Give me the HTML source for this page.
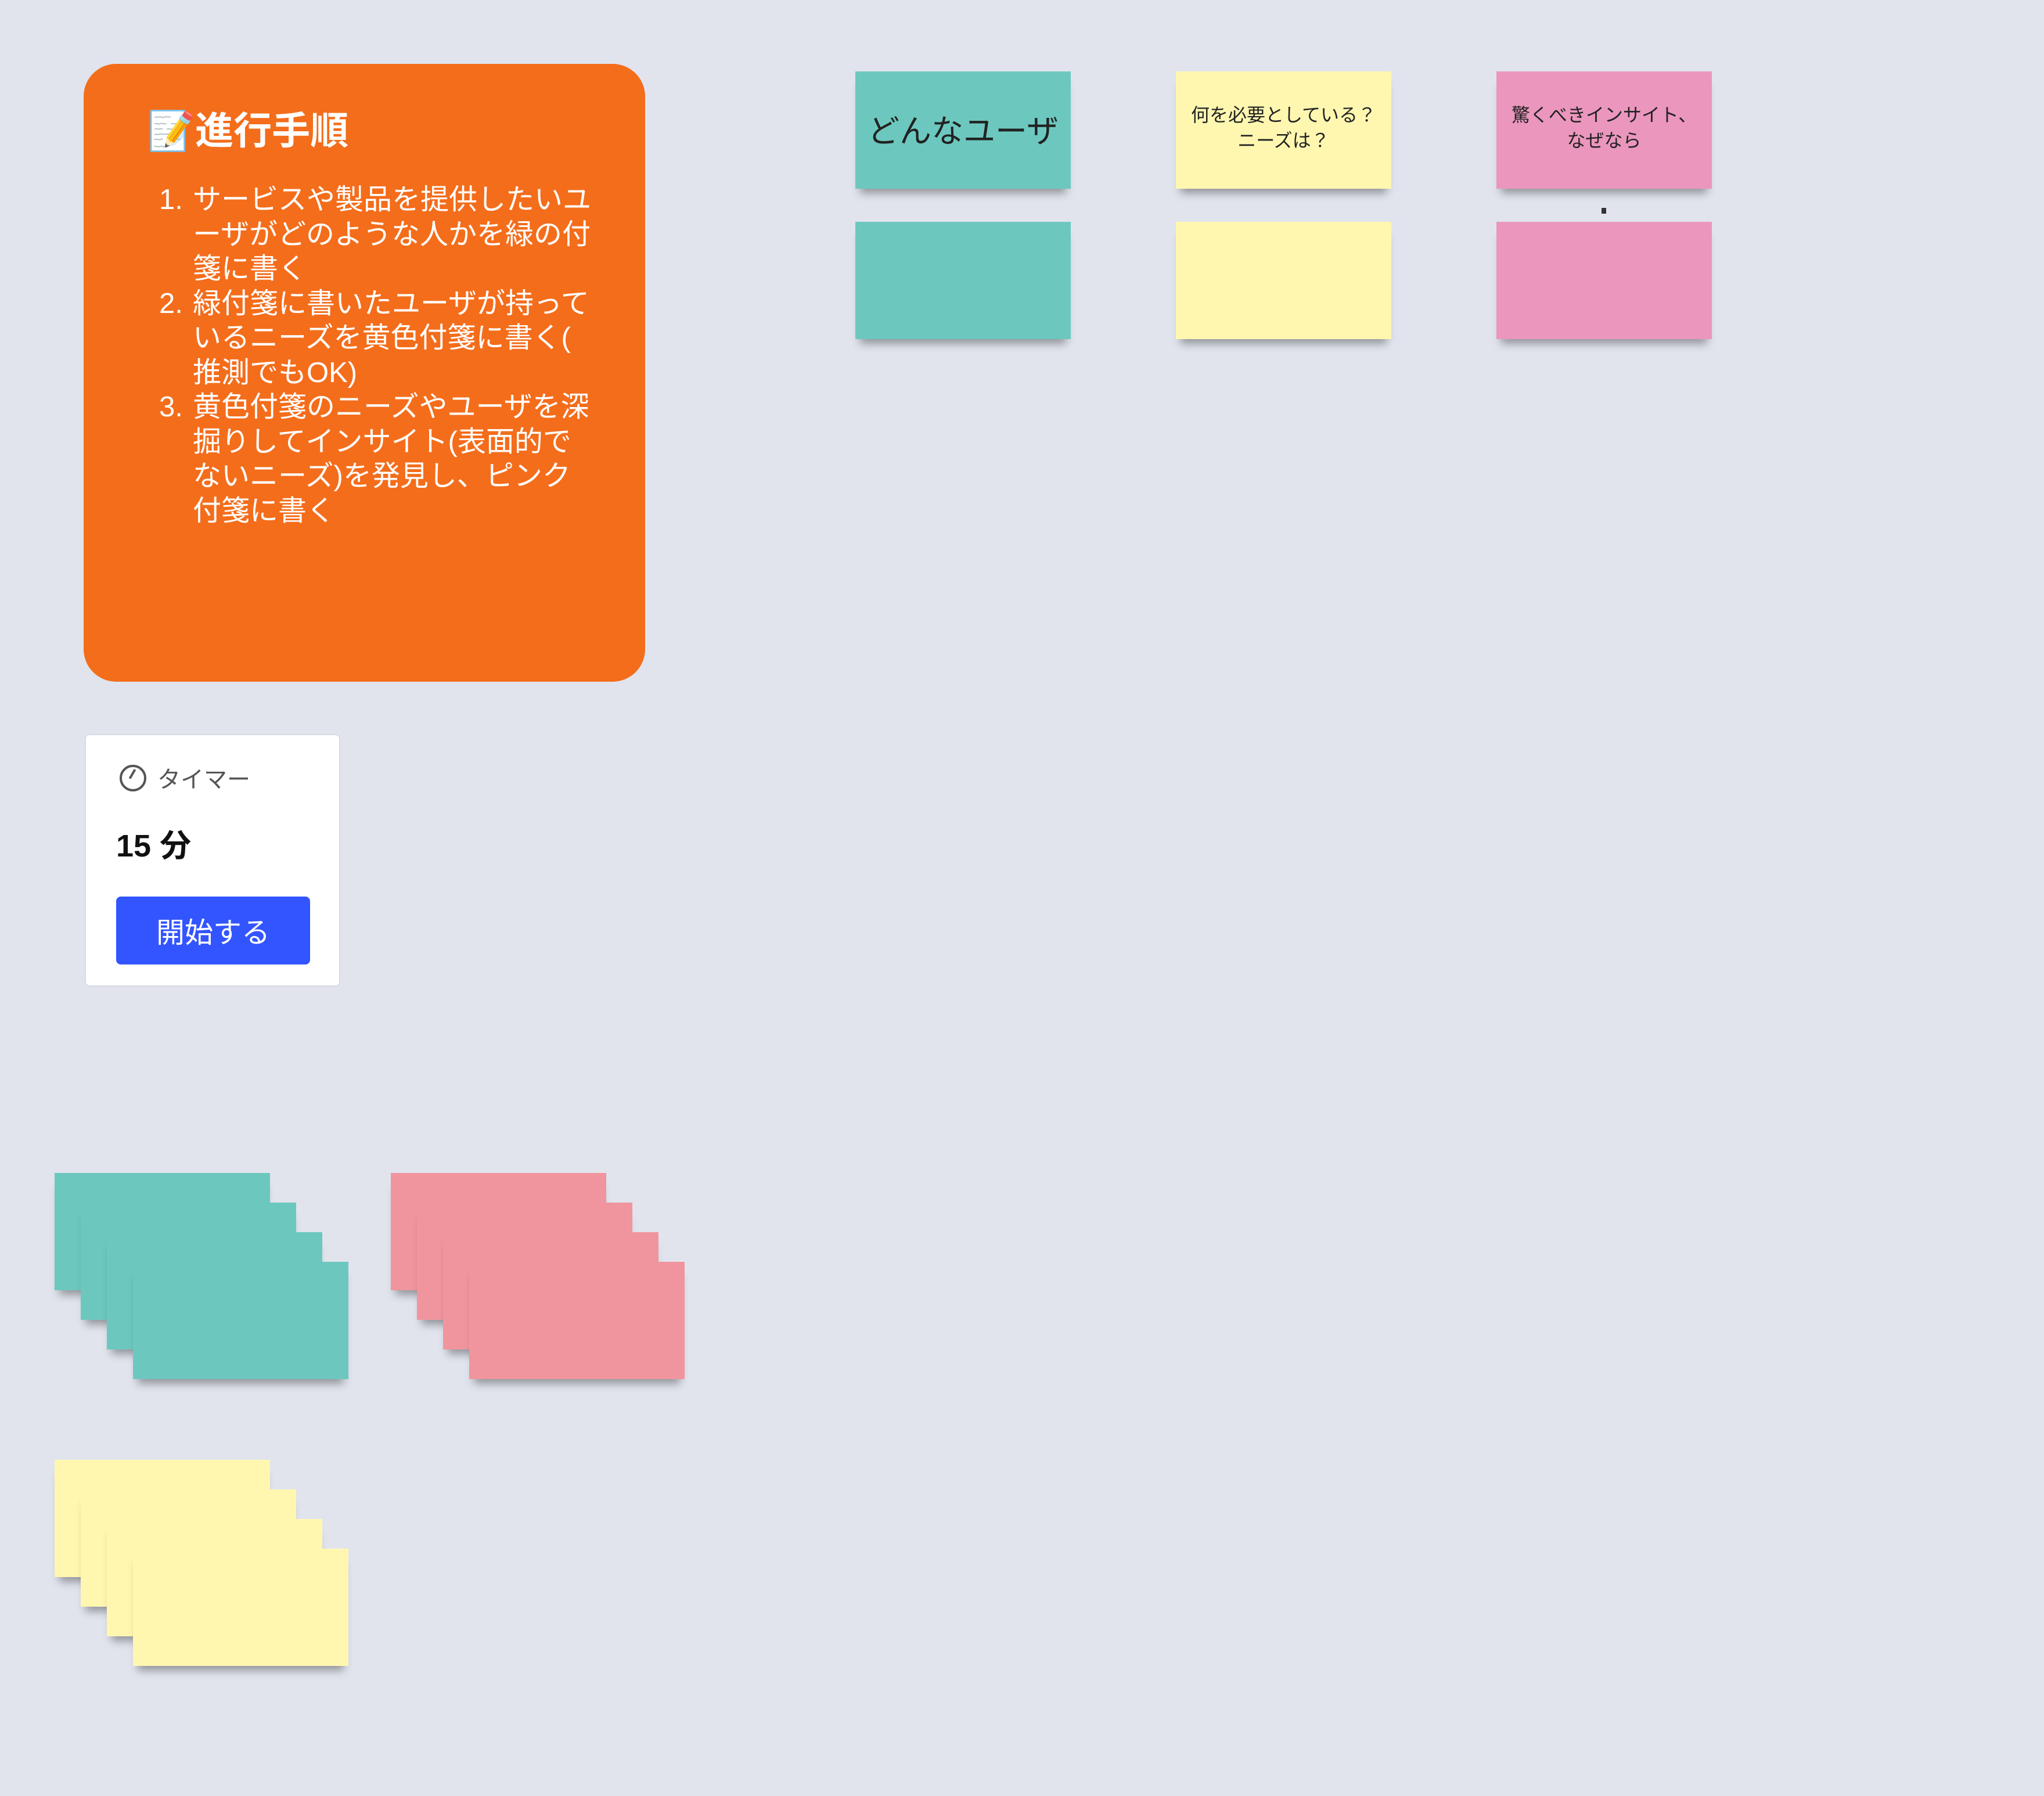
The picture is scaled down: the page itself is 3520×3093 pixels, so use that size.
<!DOCTYPE html>
<html><head><meta charset="utf-8"><style>
*{margin:0;padding:0;box-sizing:border-box}
body{width:3520px;height:3093px;background:#e1e4ed;position:relative;overflow:hidden;font-family:"Liberation Sans","Noto Sans CJK JP",sans-serif}
.a{position:absolute}
.orange{left:144px;top:110px;width:967px;height:1064px;background:#f46d1b;border-radius:56px;color:#fff}
.title{left:110px;top:75px;font-size:66px;font-weight:bold;line-height:80px;white-space:nowrap}
.list{left:130px;top:205px;width:800px;font-size:49px;line-height:59.5px;white-space:nowrap}
.list div{position:relative;padding-left:58px}
.list span{position:absolute;left:0}
.s{position:absolute;width:371px;height:202px;box-shadow:0 16px 14px -8px rgba(0,0,0,.35)}
.t{background:#6cc8bf}.y{background:#fff7b0}.p{background:#eb96bd}.r{background:#f0959e}
.st{display:flex;align-items:center;justify-content:center;text-align:center;color:#222}
</style></head><body>
<div class="a orange">
 <div class="a title">📝進行手順</div>
 <div class="a list">
  <div><span>1.</span>サービスや製品を提供したいユ<br>ーザがどのような人かを緑の付<br>箋に書く</div>
  <div><span>2.</span>緑付箋に書いたユーザが持って<br>いるニーズを黄色付箋に書く(<br>推測でもOK)</div>
  <div><span>3.</span>黄色付箋のニーズやユーザを深<br>掘りしてインサイト(表面的で<br>ないニーズ)を発見し、ピンク<br>付箋に書く</div>
 </div>
</div>
<div class="a" style="left:146px;top:1264px;width:440px;height:435px;background:#fff;border:2px solid #d8dbe4;border-radius:8px">
 <div class="a" style="left:58px;top:51px;width:46px;height:46px;border:4px solid #555;border-radius:50%"></div>
 <div class="a" style="left:78px;top:58px;width:4px;height:18px;background:#555;transform:rotate(30deg)"></div>
 <div class="a" style="left:123px;top:44px;font-size:40px;color:#555">タイマー</div>
 <div class="a" style="left:52px;top:146px;font-size:54px;font-weight:bold;color:#111">15 分</div>
 <div class="a" style="left:52px;top:278px;width:334px;height:117px;background:#3355ff;border-radius:8px;color:#fff;font-size:49px;display:flex;align-items:center;justify-content:center">開始する</div>
</div>
<div class="s t st" style="left:1473px;top:123px;font-size:55px;padding-bottom:6px">どんなユーザ</div>
<div class="s y st" style="left:2025px;top:123px;font-size:32px;line-height:44px;padding-bottom:8px">何を必要としている？<br>ニーズは？</div>
<div class="s p st" style="left:2577px;top:123px;font-size:32px;line-height:44px;padding-bottom:8px">驚くべきインサイト、<br>なぜなら</div>
<div class="a" style="left:2758px;top:358px;width:8px;height:10px;background:#333"></div>
<div class="s t" style="left:1473px;top:382px"></div>
<div class="s y" style="left:2025px;top:382px"></div>
<div class="s p" style="left:2577px;top:382px"></div>

<div class="s t" style="left:94px;top:2020px"></div>
<div class="s t" style="left:139px;top:2071px"></div>
<div class="s t" style="left:184px;top:2122px"></div>
<div class="s t" style="left:229px;top:2173px"></div>

<div class="s r" style="left:673px;top:2020px"></div>
<div class="s r" style="left:718px;top:2071px"></div>
<div class="s r" style="left:763px;top:2122px"></div>
<div class="s r" style="left:808px;top:2173px"></div>

<div class="s y" style="left:94px;top:2514px"></div>
<div class="s y" style="left:139px;top:2565px"></div>
<div class="s y" style="left:184px;top:2616px"></div>
<div class="s y" style="left:229px;top:2667px"></div>
</body></html>
